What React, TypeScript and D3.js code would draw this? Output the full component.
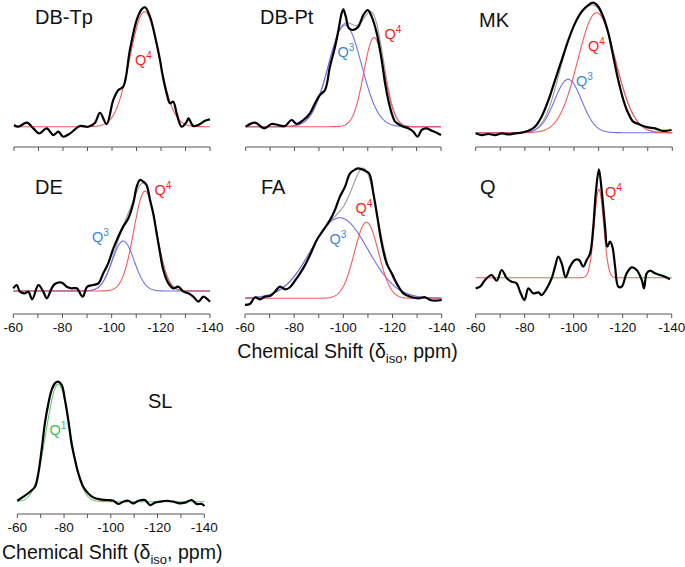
import React from "react";
import * as d3 from "d3";

// ---------- DATA (ppm, normalised intensity: black spectrum peak = 100) ----------
const dbTpSpectrum: [number, number][] = [
  [-60, 1.4], [-61.8, 0], [-65.2, 3.4], [-67.9, -1.4], [-70.3, -5.6], [-73.3, -1.4], [-76.1, -7],
  [-78.1, -4.2], [-80.1, -8.4], [-82.9, -5.6], [-86.9, 0.6], [-90.3, 0], [-93.1, 3.4], [-95.1, 11.7],
  [-97.8, 2.2], [-100.5, 22.3], [-102.6, 30.7], [-104.6, 33.5], [-107.3, 64.2], [-110.1, 89.4],
  [-112.1, 98.3], [-113.5, 100], [-115.5, 92.2], [-117.6, 75.4], [-119.6, 55.9], [-120.5, 44.7],
  [-122.3, 27.9], [-123.7, 19.6], [-125, 20.9], [-126.4, 11.2], [-128.4, 0], [-130.5, 4.2],
  [-131.2, 7], [-133.2, 0.6], [-135.2, 1.4], [-138, 5], [-140, 6.1],
];
const dbPtSpectrum: [number, number][] = [
  [-60, 0], [-63.8, 3.4], [-67.6, -1.4], [-70.6, 2.3], [-73.4, 1.4], [-76.1, 0.6], [-78.8, 5.7],
  [-80.9, 2.3], [-83.6, 5.7], [-86.3, 11.4], [-88.4, 19.9], [-90.4, 27], [-92.5, 31.3], [-94.5, 51.1],
  [-96.6, 68.2], [-98, 82.4], [-99.3, 96.6], [-100, 100], [-101, 93.8], [-102.3, 83.8], [-104.1, 82.4],
  [-106.1, 85.2], [-108.2, 95.2], [-110, 99.4], [-111.6, 93.8], [-113.7, 79.5], [-115.7, 56.8],
  [-117.1, 36.9], [-118.4, 22.7], [-119.8, 11.4], [-121.2, 4.3], [-122.5, 2.3], [-124.6, 0],
  [-126.6, -1.4], [-128.7, -4.3], [-130.4, -8.5], [-132.1, -2.8], [-134.1, -1.4], [-136.2, -3.4],
  [-138.2, -5.1], [-140, -7.1],
];
const mkSpectrum: [number, number][] = [
  [-60, -0.5], [-62.4, -1.8], [-65.2, -1], [-67.9, -1.8], [-70.6, -0.5], [-73.3, -1.3], [-76, -0.5],
  [-78.7, 0], [-81.4, 1.5], [-84.1, 4.6], [-86.8, 12.3], [-89.6, 25.1], [-92.3, 40.5], [-95, 55.9],
  [-97.7, 71.3], [-100.4, 84.1], [-103.1, 93.1], [-105.8, 98.2], [-107.9, 100], [-109.9, 96.9],
  [-111.9, 89.2], [-114, 76.4], [-116, 58.5], [-118, 40.5], [-120.1, 25.1], [-122.1, 14.9],
  [-124.1, 8.5], [-126.2, 6.7], [-128.2, 5.1], [-130.2, 4.1], [-133, 3.3], [-135.7, 1.5],
  [-137.7, 1.5], [-139.7, 2.1],
];
const deSpectrum: [number, number][] = [
  [-60, 2.4], [-61.4, 5.4], [-62.7, -0.6], [-64.7, -2.1], [-66.1, -0.6], [-67.7, -7.5], [-70.2, 5.4],
  [-72.2, -0.6], [-73.6, -6.6], [-75.6, 2.4], [-76.9, 6.3], [-79.7, 7.5], [-81.7, 3.9], [-83.7, 2.4],
  [-85.8, 2.4], [-88.2, -5.1], [-90.1, 3.9], [-92.5, 5.4], [-94.6, 6.9], [-96.6, 15.9], [-98.6, 24.9],
  [-100.7, 38.4], [-102.7, 48.9], [-104.7, 58], [-106.8, 65.5], [-108.8, 79], [-110.2, 94],
  [-111.5, 100], [-112.9, 98.5], [-114.2, 95.5], [-115.6, 82], [-116.9, 70], [-118.3, 52],
  [-119.7, 33.9], [-121, 18.9], [-123.1, 6.9], [-125.1, 2.4], [-127.1, 3.9], [-129.2, -0.6],
  [-131.2, -2.1], [-133.2, -5.1], [-135.3, -9.6], [-137.3, -5.1], [-139.3, -8.1], [-140, -9.6],
];
const faSpectrum: [number, number][] = [
  [-60, -5.1], [-62, -4.4], [-64.1, 0.8], [-66.1, -0.8], [-68.1, 1.3], [-70.2, 1.8], [-72.2, 5.1],
  [-74.2, 9], [-76.3, 6.9], [-78.3, 8.5], [-80.3, 13.5], [-82.4, 19.2], [-84.4, 25.5], [-86.4, 33],
  [-89.2, 44.9], [-91.9, 52.6], [-94.6, 60.3], [-96.6, 68], [-98.6, 78.2], [-100.7, 85.9],
  [-102.7, 96], [-104.7, 99], [-106.2, 100], [-108.7, 98.2], [-110.5, 96], [-112.2, 80.8],
  [-113.8, 62.8], [-115.6, 42.3], [-117.6, 26.9], [-119.7, 19.2], [-121.7, 11.5], [-124.4, 3.8],
  [-127.8, 0.8], [-130.5, 0], [-133.2, 0.8], [-135.3, -1.3], [-137.3, -1.8], [-140, -1.3],
];
const qSpectrum: [number, number][] = [
  [-60, -9.8], [-61.8, -8.3], [-63.8, -2.2], [-66.5, 2.5], [-68.6, -2.8], [-70.6, 7.1], [-72.7, -0.6],
  [-74.7, -3.7], [-76.7, -5.2], [-78.1, -12.9], [-79.9, -20.6], [-81.5, -9.8], [-83.5, -14.5],
  [-85.6, -13.5], [-86.9, -16], [-89, -9.8], [-91, -0.6], [-92.4, 10.2], [-93.7, 19.4], [-95.1, 13.2],
  [-96.7, 0.3], [-98.5, 10.2], [-100.5, 16.3], [-102.2, 16.3], [-103.9, 10.2], [-105.3, 16.3],
  [-106.7, 22.5], [-108, 47.1], [-109, 77.8], [-110.3, 100], [-111.4, 80.9], [-112.8, 47.1],
  [-113.7, 28.6], [-114.8, 33.2], [-115.8, 28.6], [-116.9, 10.2], [-118.2, -8.3], [-119.6, -8.3],
  [-121.6, 4], [-123.7, 9.5], [-125.7, 7.1], [-127.8, -2.2], [-128.7, -9.8], [-129.8, 4],
  [-131.2, 6.5], [-133.2, 4], [-135.2, 2.5], [-137.3, 0.9], [-139.3, -1.5],
];
const slSpectrum: [number, number][] = [
  [-60, 0.8], [-62.6, 4.2], [-65.4, 8.3], [-67.6, 12.5], [-69, 23.6], [-70.4, 43.1], [-71.8, 65.3],
  [-73.3, 81.9], [-74.7, 93.1], [-76.1, 98.6], [-77.5, 100], [-79, 97.2], [-80.4, 84.7], [-81.8, 68.1],
  [-83.2, 48.6], [-84.7, 34.7], [-86.1, 23.6], [-88.2, 12.5], [-90.4, 6.9], [-92.5, 3.6], [-95.4, 1.9],
  [-98.2, 1.4], [-101.1, 0.8], [-103.2, -1.9], [-105.3, 0], [-107.5, 0.8], [-109.6, -1.4],
  [-111.8, 0.8], [-114.6, 1.4], [-116.8, -2.8], [-118.9, -0.8], [-121, 0], [-123.9, 0.8], [-126.7, 0],
  [-129.6, -1.4], [-131.7, -0.8], [-134.6, 1.4], [-136.7, -1.9], [-138.9, -1.9], [-140, -3.6],
];

// Gaussian fit components: site, centre (ppm), FWHM (ppm), height
type Fit = { site: string; center: number; fwhm: number; height: number };
const dbTpFits: Fit[] = [{ site: "4", center: -113.3, fwhm: 14, height: 96.4 }];
const dbPtFits: Fit[] = [
  { site: "3", center: -100.7, fwhm: 16, height: 86.6 },
  { site: "4", center: -112.6, fwhm: 10, height: 76 },
];
const mkFits: Fit[] = [
  { site: "3", center: -97.6, fwhm: 13, height: 41 },
  { site: "4", center: -109.2, fwhm: 18, height: 92.3 },
];
const deFits: Fit[] = [
  { site: "3", center: -104.7, fwhm: 10.5, height: 45 },
  { site: "4", center: -113.6, fwhm: 10.8, height: 90 },
];
const faFits: Fit[] = [
  { site: "3", center: -98.5, fwhm: 27, height: 62 },
  { site: "4", center: -109.4, fwhm: 11.5, height: 58.5 },
];
const qFits: Fit[] = [{ site: "4", center: -110.3, fwhm: 4.5, height: 81.5 }];
const slFits: Fit[] = [{ site: "1", center: -77.5, fwhm: 12, height: 98 }];

const sampleNames = ["DB-Tp", "DB-Pt", "MK", "DE", "FA", "Q", "SL"];
const minorTicks = [-60, -70, -80, -90, -100, -110, -120, -130, -140];
const tickLabels = [-60, -80, -100, -120, -140];

// ---------- LAYOUT ----------
const FONT = "'Liberation Sans', Arial, Helvetica, sans-serif";
const siteStyle: Record<string, { curve: string; text: string }> = {
  "1": { curve: "#5ecf6a", text: "#2fc45a" },
  "3": { curve: "#6f6ff5", text: "#3f86d4" },
  "4": { curve: "#f25c5c", text: "#ff1a1a" },
};

type Panel = {
  name: string;
  spec: [number, number][];
  fits: Fit[];
  x0: number; x1: number; baseY: number; peakY: number; axisY: number;
  showLabels: boolean;
  title: [number, number];
  siteLabels: [number, number][];
};

const panels: Panel[] = [
  { name: sampleNames[0], spec: dbTpSpectrum, fits: dbTpFits, x0: 14, x1: 210, baseY: 126.7, peakY: 7.3, axisY: 147, showLabels: false, title: [35, 24], siteLabels: [[135, 64.5]] },
  { name: sampleNames[1], spec: dbPtSpectrum, fits: dbPtFits, x0: 245.7, x1: 441, baseY: 126.7, peakY: 9.3, axisY: 147, showLabels: false, title: [260, 24], siteLabels: [[337.5, 57], [384.5, 39]] },
  { name: sampleNames[2], spec: mkSpectrum, fits: mkFits, x0: 475.7, x1: 672.3, baseY: 132.7, peakY: 2.7, axisY: 147, showLabels: false, title: [479, 27], siteLabels: [[576, 86], [588, 51]] },
  { name: sampleNames[3], spec: deSpectrum, fits: deFits, x0: 13.3, x1: 210, baseY: 291, peakY: 180, axisY: 314, showLabels: true, title: [35, 194], siteLabels: [[92, 242], [154.5, 194.5]] },
  { name: sampleNames[4], spec: faSpectrum, fits: faFits, x0: 245, x1: 441.7, baseY: 298.3, peakY: 168.3, axisY: 314, showLabels: true, title: [261, 194], siteLabels: [[329.5, 243.5], [355.5, 212.5]] },
  { name: sampleNames[5], spec: qSpectrum, fits: qFits, x0: 475.7, x1: 671.7, baseY: 277.7, peakY: 169.3, axisY: 314, showLabels: true, title: [480, 194], siteLabels: [[605, 197]] },
  { name: sampleNames[6], spec: slSpectrum, fits: slFits, x0: 17.3, x1: 204.3, baseY: 501.7, peakY: 381.7, axisY: 514, showLabels: true, title: [148, 408], siteLabels: [[49.5, 435]] },
];

const gauss = (f: Fit, x: number) => {
  const s = f.fwhm / 2.3548;
  return f.height * Math.exp(-0.5 * ((x - f.center) / s) ** 2);
};
const grid = d3.range(-60, -140.001, -0.25);

function PanelView({ p }: { p: Panel }) {
  const x = d3.scaleLinear().domain([-60, -140]).range([p.x0, p.x1]);
  const y = d3.scaleLinear().domain([0, 100]).range([p.baseY, p.peakY]);
  const smooth = d3.line<[number, number]>().x((d) => x(d[0])).y((d) => y(d[1])).curve(d3.curveCatmullRom.alpha(0.5));
  const plain = d3.line<[number, number]>().x((d) => x(d[0])).y((d) => y(d[1]));
  const total: [number, number][] = grid.map((g) => [g, d3.sum(p.fits, (f) => gauss(f, g))]);
  return (
    <g>
      <text x={p.title[0]} y={p.title[1]} fontSize={20} fontFamily={FONT} fill="#111">{p.name}</text>
      {p.fits.length > 1 && <path d={plain(total) || ""} fill="none" stroke="#9a9a9a" strokeWidth={1.1} />}
      {p.fits.map((f, i) => (
        <path key={i} d={plain(grid.map((g) => [g, gauss(f, g)] as [number, number])) || ""} fill="none" stroke={siteStyle[f.site].curve} strokeWidth={1.1} />
      ))}
      <path d={smooth(p.spec) || ""} fill="none" stroke="#000" strokeWidth={2.2} strokeLinejoin="round" />
      {p.fits.map((f, i) => (
        <text key={"l" + i} x={p.siteLabels[i][0]} y={p.siteLabels[i][1]} fontSize={14.5} fontFamily={FONT} fill={siteStyle[f.site].text}>
          Q<tspan fontSize={10} dy={-6}>{f.site}</tspan>
        </text>
      ))}
      <line x1={p.x0} x2={p.x1} y1={p.axisY} y2={p.axisY} stroke="#555" strokeWidth={1} />
      {minorTicks.map((t) => (
        <line key={t} x1={x(t)} x2={x(t)} y1={p.axisY} y2={p.axisY + 4} stroke="#555" strokeWidth={1} />
      ))}
      {p.showLabels && tickLabels.map((t) => (
        <text key={"t" + t} x={x(t)} y={p.axisY + 17.5} fontSize={13.5} fontFamily={FONT} textAnchor="middle" fill="#111">{t}</text>
      ))}
    </g>
  );
}

function AxisTitle({ x, y, anchor }: { x: number; y: number; anchor: "start" | "middle" }) {
  return (
    <text x={x} y={y} fontSize={19.5} fontFamily={FONT} textAnchor={anchor} fill="#111">
      Chemical Shift (δ<tspan fontSize={13} dy={4.5}>iso</tspan><tspan dy={-4.5}>, ppm)</tspan>
    </text>
  );
}

export default function App() {
  return (
    <svg width={685} height={567} style={{ position: "absolute", left: 0, top: 0, background: "#fff" }}>
      <rect width={685} height={567} fill="#fff" />
      {panels.map((p) => <PanelView key={p.name} p={p} />)}
      <AxisTitle x={347.5} y={358} anchor="middle" />
      <AxisTitle x={2} y={559} anchor="start" />
    </svg>
  );
}
